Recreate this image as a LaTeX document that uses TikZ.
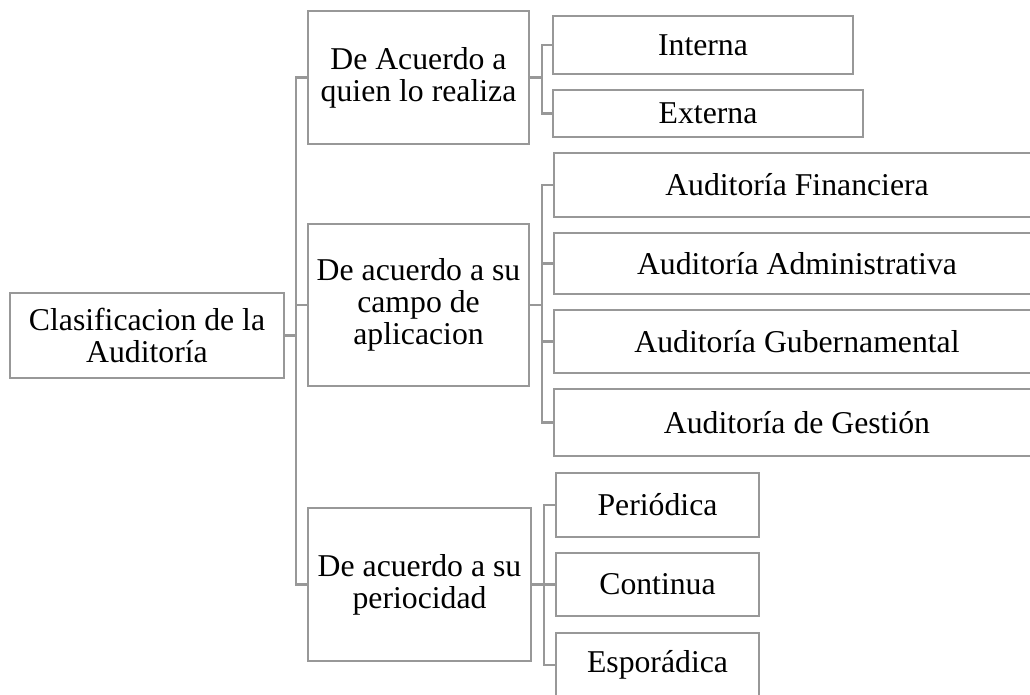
\documentclass[tikz,border=0pt]{standalone}
\usepackage{fontspec}
\setmainfont{Liberation Serif}
\definecolor{ln}{RGB}{152,152,152}
\begin{document}
\begin{tikzpicture}[x=0.75pt,y=-0.75pt,
  bx/.style={draw=ln,line width=1.8pt,fill=white,inner sep=0pt,outer sep=0pt,align=center,
    font=\fontsize{23.8pt}{24pt}\selectfont,text=black},
  cn/.style={draw=ln,line width=1.8pt}]
\useasboundingbox (0,0) rectangle (1030,694);
\clip (0,0) rectangle (1030,694);
\fill[white] (0,0) rectangle (1030,694);
% root
\node[bx,minimum width=274*0.75pt,minimum height=85*0.75pt] (root) at (147,335.5) {Clasificacion de la\\Auditoría};
% level 1
\node[bx,minimum width=221*0.75pt,minimum height=133*0.75pt] (la) at (418.5,77.5) {De Acuerdo a\\quien lo realiza};
\node[bx,minimum width=221*0.75pt,minimum height=162*0.75pt] (lb) at (418.5,305) {De acuerdo a su\\campo de\\aplicacion};
\node[bx,minimum width=223*0.75pt,minimum height=153*0.75pt] (lc) at (419.5,584.5) {De acuerdo a su\\periocidad};
% group 1
\node[bx,minimum width=300*0.75pt,minimum height=58*0.75pt] (a1) at (703,45) {Interna};
\node[bx,minimum width=310*0.75pt,minimum height=47*0.75pt] (a2) at (708,113.5) {Externa};
% group 2
\node[bx,minimum width=486*0.75pt,minimum height=64*0.75pt] (b1) at (797,185) {Auditoría Financiera};
\node[bx,minimum width=486*0.75pt,minimum height=61*0.75pt] (b2) at (797,263.5) {Auditoría Administrativa};
\node[bx,minimum width=486*0.75pt,minimum height=63*0.75pt] (b3) at (797,341.5) {Auditoría Gubernamental};
\node[bx,minimum width=486*0.75pt,minimum height=67*0.75pt] (b4) at (797,422.5) {Auditoría de Gestión};
% group 3
\node[bx,minimum width=203*0.75pt,minimum height=64*0.75pt] (c1) at (657.5,505) {Periódica};
\node[bx,minimum width=203*0.75pt,minimum height=63*0.75pt] (c2) at (657.5,584.5) {Continua};
\node[bx,minimum width=203*0.75pt,minimum height=64*0.75pt] (c3) at (657.5,665) {Esporádica};
% trunk coordinates
\coordinate (t0) at (296,0);
\coordinate (s1) at (542,0);
\coordinate (s2) at (542,0);
\coordinate (s3) at (544,0);
% main trunk
\draw[cn] (root.east) -- (root.east -| t0);
\draw[cn] (la.west) -| (t0 |- lc.west) -- (lc.west);
\draw[cn] (t0 |- lb.west) -- (lb.west);
% group 1
\draw[cn] (la.east) -- (la.east -| s1);
\draw[cn] (a1.west) -| (s1 |- a2.west) -- (a2.west);
% group 2
\draw[cn] (lb.east) -- (lb.east -| s2);
\draw[cn] (b1.west) -| (s2 |- b4.west) -- (b4.west);
\draw[cn] (s2 |- b2.west) -- (b2.west);
\draw[cn] (s2 |- b3.west) -- (b3.west);
% group 3
\draw[cn] (lc.east) -- (lc.east -| s3);
\draw[cn] (c1.west) -| (s3 |- c3.west) -- (c3.west);
\draw[cn] (s3 |- c2.west) -- (c2.west);
\end{tikzpicture}
\end{document}
